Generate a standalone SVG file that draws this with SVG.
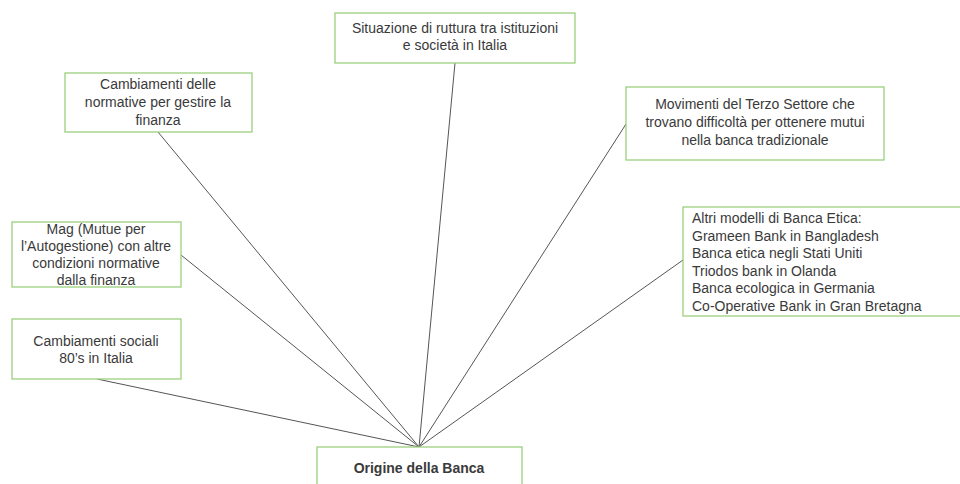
<svg xmlns="http://www.w3.org/2000/svg" width="960" height="484" viewBox="0 0 960 484">
  <style>
    .box { fill: #ffffff; stroke: #9ccf7e; stroke-width: 1.3; }
    .lbl { font-family: "Liberation Sans", "Open Sans", sans-serif; font-size: 14px; fill: #3a3a3a; text-anchor: middle; }
    .left { text-anchor: start; }
    .bold { font-weight: bold; }
    .conn { stroke: #555555; stroke-width: 1; fill: none; }
  </style>
  <rect width="960" height="484" fill="#ffffff"/>

  <g id="connectors">
    <line class="conn" x1="97" y1="379" x2="419" y2="447"/>
    <line class="conn" x1="181" y1="255" x2="419" y2="447"/>
    <line class="conn" x1="158" y1="132" x2="419" y2="447"/>
    <line class="conn" x1="455" y1="63" x2="419" y2="447"/>
    <line class="conn" x1="626" y1="124" x2="419" y2="447"/>
    <line class="conn" x1="683" y1="260" x2="419" y2="447"/>
  </g>

  <g id="situazione">
    <rect class="box" x="335" y="13" width="240" height="50"/>
    <text class="lbl" x="455" y="33">Situazione di ruttura tra istituzioni</text>
    <text class="lbl" x="455" y="50">e società in  Italia</text>
  </g>

  <g id="normative">
    <rect class="box" x="65" y="73" width="187" height="59"/>
    <text class="lbl" x="158" y="89">Cambiamenti delle</text>
    <text class="lbl" x="158" y="107">normative per gestire la</text>
    <text class="lbl" x="158" y="125">finanza</text>
  </g>

  <g id="movimenti">
    <rect class="box" x="626" y="87" width="258" height="73"/>
    <text class="lbl" x="755" y="109">Movimenti del Terzo Settore che</text>
    <text class="lbl" x="755" y="127">trovano difficoltà per ottenere mutui</text>
    <text class="lbl" x="755" y="145">nella banca tradizionale</text>
  </g>

  <g id="mag">
    <rect class="box" x="12" y="222" width="169" height="65"/>
    <text class="lbl" x="96" y="234">Mag (Mutue per</text>
    <text class="lbl" x="96" y="251">l’Autogestione) con altre</text>
    <text class="lbl" x="96" y="268">condizioni normative</text>
    <text class="lbl" x="96" y="285">dalla finanza</text>
  </g>

  <g id="altri-modelli">
    <rect class="box" x="683" y="207" width="290" height="109"/>
    <text class="lbl left" x="692" y="223">Altri modelli di Banca Etica:</text>
    <text class="lbl left" x="692" y="241">Grameen Bank in Bangladesh</text>
    <text class="lbl left" x="692" y="258">Banca etica negli Stati  Uniti</text>
    <text class="lbl left" x="692" y="276">Triodos bank in Olanda</text>
    <text class="lbl left" x="692" y="293">Banca ecologica in Germania</text>
    <text class="lbl left" x="692" y="311">Co-Operative Bank in Gran Bretagna</text>
  </g>

  <g id="cambiamenti-sociali">
    <rect class="box" x="12" y="319" width="169" height="60"/>
    <text class="lbl" x="96" y="346">Cambiamenti sociali</text>
    <text class="lbl" x="96" y="363">80’s in Italia</text>
  </g>

  <g id="origine">
    <rect class="box" x="317" y="447" width="205" height="50"/>
    <text class="lbl bold" x="419" y="473">Origine della Banca</text>
  </g>
</svg>
